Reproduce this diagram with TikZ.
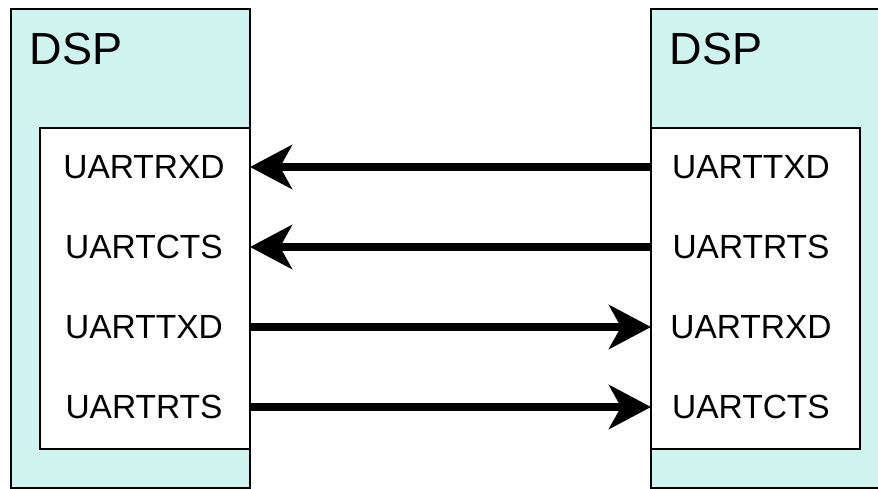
\documentclass[tikz,border=0pt]{standalone}
\usepackage{fontspec}
\setmainfont{Liberation Sans}
\usetikzlibrary{arrows.meta}
\definecolor{dspfill}{RGB}{207,243,238}
\tikzset{
  dspbox/.style={draw, line width=2pt, fill=dspfill},
  portbox/.style={draw, line width=2pt, fill=white},
  port/.style={minimum width=209pt, minimum height=80pt, inner sep=0pt, font=\fontsize{33.5}{38}\selectfont},
  sig/.style={line width=8pt, -{Stealth[length=42pt, width=44pt, inset=12pt]}},
}
\begin{document}
\begin{tikzpicture}[x=1pt, y=-1pt]
	\useasboundingbox (0,0) rectangle (878,489);
	% the two DSP blocks
	\draw[dspbox] (11,9) rectangle (250,488);
	\draw[dspbox] (651,9) rectangle (900,488);
	\node[anchor=west, font=\fontsize{45}{50}\selectfont] (dspl) at (26,49) {DSP};
	\node[anchor=west, font=\fontsize{45}{50}\selectfont] (dspr) at (666,49) {DSP};
	\draw[portbox] (40,128) rectangle (250,449);
	\draw[portbox] (651,128) rectangle (860,449);
	% left side signals
	\node[port] (lrxd) at (144,167) {UARTRXD};
	\node[port] (lcts) at (144,247) {UARTCTS};
	\node[port] (ltxd) at (144,327) {UARTTXD};
	\node[port] (lrts) at (144,407) {UARTRTS};
	% right side signals
	\node[port] (rtxd) at (751,167) {UARTTXD};
	\node[port] (rrts) at (751,247) {UARTRTS};
	\node[port] (rrxd) at (751,327) {UARTRXD};
	\node[port] (rcts) at (751,407) {UARTCTS};
	\draw[sig] (rtxd.west -| 651,168) -- (lrxd.east -| 250,168);
	\draw[sig] (rrts.west -| 651,248) -- (lcts.east -| 250,248);
	\draw[sig] (ltxd.east -| 250,328) -- (rrxd.west -| 651,328);
	\draw[sig] (lrts.east -| 250,408) -- (rcts.west -| 651,408);
\end{tikzpicture}
\end{document}
